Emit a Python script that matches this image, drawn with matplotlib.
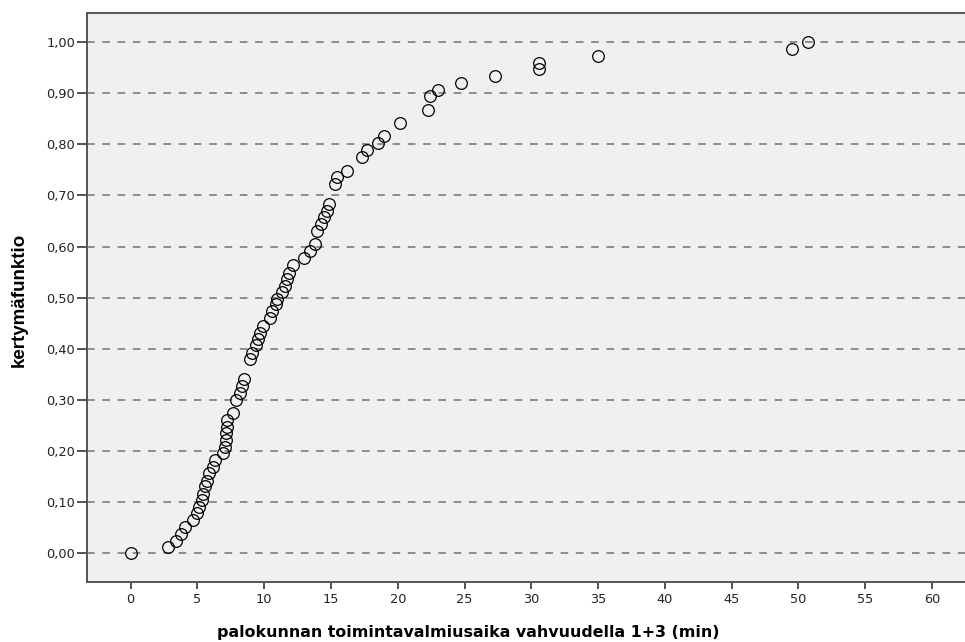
import matplotlib
matplotlib.use("Agg")
import matplotlib.pyplot as plt
from matplotlib import font_manager
import numpy as np

# toimintavalmiusaika (min) ja kertymäfunktion arvo
aika = [0.00, 2.80, 3.39, 3.80, 4.09, 4.69, 4.93, 5.10, 5.36, 5.43,
        5.56, 5.69, 5.88, 6.18, 6.31, 6.93, 7.06, 7.13, 7.13, 7.19,
        7.23, 7.63, 7.88, 8.18, 8.30, 8.48, 8.93, 9.06, 9.38, 9.55,
        9.68, 9.93, 10.43, 10.55, 10.85, 10.93, 11.30, 11.55, 11.72, 11.87,
        12.13, 12.97, 13.42, 13.80, 13.92, 14.22, 14.47, 14.67, 14.84, 15.29,
        15.42, 16.17, 17.29, 17.66, 18.53, 18.96, 20.16, 22.28, 22.43, 23.00,
        24.72, 27.25, 30.58, 30.58, 34.98, 49.52, 50.72]
kertyma = [0.000, 0.011, 0.024, 0.037, 0.050, 0.065, 0.078, 0.089, 0.104, 0.115,
           0.130, 0.141, 0.156, 0.169, 0.181, 0.195, 0.208, 0.221, 0.234, 0.247,
           0.260, 0.273, 0.300, 0.314, 0.327, 0.340, 0.379, 0.392, 0.407, 0.418,
           0.431, 0.445, 0.460, 0.473, 0.488, 0.498, 0.510, 0.523, 0.536, 0.549,
           0.564, 0.577, 0.592, 0.604, 0.631, 0.644, 0.657, 0.670, 0.683, 0.722,
           0.736, 0.748, 0.776, 0.789, 0.802, 0.816, 0.841, 0.867, 0.894, 0.907,
           0.920, 0.933, 0.947, 0.960, 0.973, 0.986, 1.000]

xticks = list(range(0, 65, 5))
yticks = [0.0, 0.1, 0.2, 0.3, 0.4, 0.5, 0.6, 0.7, 0.8, 0.9, 1.0]
ytick_labels = ["0,00", "0,10", "0,20", "0,30", "0,40", "0,50",
                "0,60", "0,70", "0,80", "0,90", "1,00"]

installed = {f.name for f in font_manager.fontManager.ttflist}
narrow = "Liberation Sans Narrow" if "Liberation Sans Narrow" in installed else "Liberation Sans"

fig = plt.figure(figsize=(9.65, 6.42), dpi=100)
ax = fig.add_axes([0.0902, 0.0935, 0.931, 0.886])
ax.set_facecolor("#f0f0f0")

for y in yticks:
    ax.axhline(y, color="#727272", linewidth=1.1, linestyle=(0, (5, 5)), zorder=1)

ax.plot(aika, kertyma, linestyle="none", marker="o", markersize=8.4,
        markerfacecolor="none", markeredgecolor="black", markeredgewidth=0.9, zorder=3)

ax.set_xlim(-3.27, 64)
ax.set_ylim(-0.057, 1.057)
ax.set_xticks(xticks)
ax.set_xticklabels([str(t) for t in xticks], fontfamily="DejaVu Sans", fontsize=9.3)
ax.set_yticks(yticks)
ax.set_yticklabels(ytick_labels, fontfamily="DejaVu Sans", fontsize=9.3)
ax.tick_params(axis="x", direction="out", length=5, width=1.3, color="#444444", pad=3,
               labelcolor="#222222")
ax.tick_params(axis="y", direction="out", length=7.5, width=1.3, color="#444444", pad=1,
               labelcolor="#222222")

for side in ["left", "bottom", "top", "right"]:
    ax.spines[side].set_color("#555555")
    ax.spines[side].set_linewidth(1.4)

fig.text(468 / 965, 1 - 632 / 642, "palokunnan toimintavalmiusaika vahvuudella 1+3 (min)",
         ha="center", va="center", fontsize=11.4, fontweight="bold", family="DejaVu Sans")
fig.text(19 / 965, 1 - 300 / 642, "kertymäfunktio", rotation=90,
         ha="center", va="center", fontsize=13.5, fontweight="bold", family=narrow)

fig.savefig("out.png", dpi=100)
